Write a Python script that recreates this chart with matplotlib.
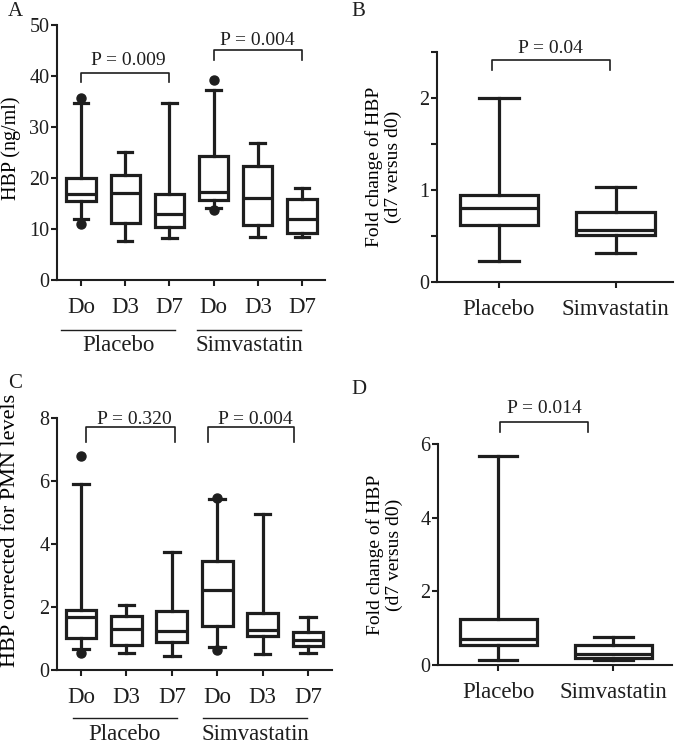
import matplotlib
matplotlib.use('Agg')
import matplotlib.pyplot as plt

plt.rcParams['font.family'] = ['Liberation Serif', 'DejaVu Serif']

INK = '#1e1e1e'

# Panel A: HBP (ng/ml) at Do / D3 / D7 for placebo and simvastatin
a_labels = ['Do', 'D3', 'D7', 'Do', 'D3', 'D7']
a_whislo = [12.0, 7.7, 8.2, 14.2, 8.4, 8.4]
a_q1 = [15.5, 11.2, 10.3, 15.7, 10.8, 9.3]
a_med = [16.8, 17.0, 13.0, 17.2, 16.0, 11.9]
a_q3 = [20.0, 20.6, 16.9, 24.3, 22.3, 15.8]
a_whishi = [34.7, 25.0, 34.7, 37.2, 26.9, 18.1]
a_fliers = [[35.6, 10.9], [], [], [39.2, 13.8], [], []]

# Panel B: fold change d7 vs d0
b_labels = ['Placebo', 'Simvastatin']
b_whislo = [0.23, 0.32]
b_q1 = [0.62, 0.51]
b_med = [0.80, 0.56]
b_q3 = [0.95, 0.76]
b_whishi = [2.0, 1.03]

# Panel C: HBP corrected for PMN levels
c_labels = ['Do', 'D3', 'D7', 'Do', 'D3', 'D7']
c_whislo = [0.66, 0.53, 0.45, 0.72, 0.50, 0.55]
c_q1 = [1.0, 0.79, 0.9, 1.41, 1.09, 0.77]
c_med = [1.69, 1.31, 1.25, 2.55, 1.26, 0.96]
c_q3 = [1.91, 1.71, 1.87, 3.45, 1.80, 1.19]
c_whishi = [5.9, 2.06, 3.75, 5.42, 4.94, 1.69]
c_fliers = [[6.8, 0.55], [], [], [5.45, 0.63], [], []]

# Panel D: fold change d7 vs d0 (corrected)
d_labels = ['Placebo', 'Simvastatin']
d_whislo = [0.14, 0.14]
d_q1 = [0.54, 0.19]
d_med = [0.70, 0.30]
d_q3 = [1.26, 0.54]
d_whishi = [5.66, 0.75]

groups = ['Placebo', 'Simvastatin']


def make_stats(lo, q1, med, q3, hi, fliers=None):
    out = []
    for i in range(len(lo)):
        out.append(dict(whislo=lo[i], q1=q1[i], med=med[i], q3=q3[i],
                        whishi=hi[i], fliers=fliers[i] if fliers else []))
    return out


def draw_boxes(ax, stats, width):
    lw = 2.3
    ax.bxp(stats, positions=range(1, len(stats) + 1), widths=width,
           showfliers=True, patch_artist=True,
           boxprops=dict(facecolor='white', edgecolor=INK, linewidth=lw),
           medianprops=dict(color=INK, linewidth=lw),
           whiskerprops=dict(color=INK, linewidth=lw),
           capprops=dict(color=INK, linewidth=lw),
           flierprops=dict(marker='o', markerfacecolor=INK,
                           markeredgecolor=INK, markersize=6.5))


def style_axes(ax):
    for s in ['top', 'right']:
        ax.spines[s].set_visible(False)
    for s in ['left', 'bottom']:
        ax.spines[s].set_linewidth(1.5)
        ax.spines[s].set_color(INK)
    ax.tick_params(axis='both', colors=INK, width=1.5, length=4.5)
    ax.tick_params(axis='y', labelsize=14.5, pad=1)
    ax.tick_params(axis='x', labelsize=16.5, pad=8)


def bracket(ax, x0, x1, y, leg, text, tx, ty):
    ax.plot([x0, x0, x1, x1], [y - leg, y, y, y - leg], color=INK,
            linewidth=1.2, clip_on=False)
    ax.text(tx, ty, text, ha='center', va='baseline', fontsize=14,
            color=INK, clip_on=False)


def group_labels(ax, spans, line_y, text_y):
    tr = ax.get_xaxis_transform()
    for (x0, x1), name in zip(spans, groups):
        ax.plot([x0, x1], [line_y, line_y], color=INK, linewidth=1.0,
                transform=tr, clip_on=False)
        ax.text((x0 + x1) / 2, text_y, name, transform=tr, ha='center',
                va='top', fontsize=16.5, color=INK)


fig = plt.figure(figsize=(6.85, 7.48), dpi=100)

# ---- A
ax = fig.add_axes([0.0832, 0.6257, 0.3912, 0.3409])
draw_boxes(ax, make_stats(a_whislo, a_q1, a_med, a_q3, a_whishi, a_fliers), 0.66)
style_axes(ax)
ax.set_xlim(0.457, 6.52)
ax.set_ylim(0, 50)
ax.set_yticks([0, 10, 20, 30, 40, 50])
ax.set_xticks(range(1, 7))
ax.set_xticklabels(a_labels)
ax.set_ylabel('HBP (ng/ml)', fontsize=14.5)
ax.yaxis.set_label_coords(-0.135, 0.518)
bracket(ax, 1, 3, 40.6, 1.8, 'P = 0.009', 2.06, 42.2)
bracket(ax, 4, 6, 45.1, 2.0, 'P = 0.004', 5.0, 46.1)
group_labels(ax, [(0.55, 3.13), (3.62, 5.98)], -0.196, -0.215)
fig.text(8 / 685, 1 - 12 / 748, 'A', fontsize=15, va='center', color=INK)

# ---- B
ax = fig.add_axes([0.638, 0.623, 0.3445, 0.3075])
draw_boxes(ax, make_stats(b_whislo, b_q1, b_med, b_q3, b_whishi), 0.675)
style_axes(ax)
ax.set_xlim(0.47, 2.49)
ax.set_ylim(0, 2.5)
ax.set_yticks([0, 0.5, 1, 1.5, 2, 2.5])
ax.set_yticklabels(['0', '', '1', '', '2', ''])
ax.set_xticks([1, 2])
ax.set_xticklabels(b_labels)
ax.set_ylabel('Fold change of HBP\n(d7 versus d0)', fontsize=14,
              linespacing=1.1)
ax.yaxis.set_label_coords(-0.148, 0.5)
bracket(ax, 0.94, 1.95, 2.41, 0.11, 'P = 0.04', 1.44, 2.49)
fig.text(351 / 685, 1 - 12 / 748, 'B', fontsize=15, va='center', color=INK)

# ---- C
ax = fig.add_axes([0.0832, 0.1043, 0.4015, 0.3369])
draw_boxes(ax, make_stats(c_whislo, c_q1, c_med, c_q3, c_whishi, c_fliers), 0.68)
style_axes(ax)
ax.set_xlim(0.47, 6.53)
ax.set_ylim(0, 8)
ax.set_yticks([0, 2, 4, 6, 8])
ax.set_xticks(range(1, 7))
ax.set_xticklabels(c_labels)
ax.set_ylabel('HBP corrected for PMN levels', fontsize=16)
ax.yaxis.set_label_coords(-0.135, 0.552)
bracket(ax, 1.1, 3.06, 7.71, 0.47, 'P = 0.320', 2.17, 7.8)
bracket(ax, 3.8, 5.7, 7.71, 0.47, 'P = 0.004', 4.85, 7.8)
group_labels(ax, [(0.82, 3.11), (3.69, 5.98)], -0.19, -0.215)
fig.text(8 / 685, 1 - 383 / 748, 'C', fontsize=15, va='center', color=INK)

# ---- D
ax = fig.add_axes([0.6394, 0.1110, 0.3416, 0.2955])
draw_boxes(ax, make_stats(d_whislo, d_q1, d_med, d_q3, d_whishi), 0.67)
style_axes(ax)
ax.set_xlim(0.478, 2.51)
ax.set_ylim(0, 6)
ax.set_yticks([0, 2, 4, 6])
ax.set_xticks([1, 2])
ax.set_xticklabels(d_labels)
ax.set_ylabel('Fold change of HBP\n(d7 versus d0)', fontsize=14,
              linespacing=1.1)
ax.yaxis.set_label_coords(-0.15, 0.5)
bracket(ax, 1.02, 1.78, 6.6, 0.27, 'P = 0.014', 1.40, 6.85)
fig.text(351 / 685, 1 - 390 / 748, 'D', fontsize=15, va='center', color=INK)

fig.savefig('out.png', dpi=100, facecolor='white')
